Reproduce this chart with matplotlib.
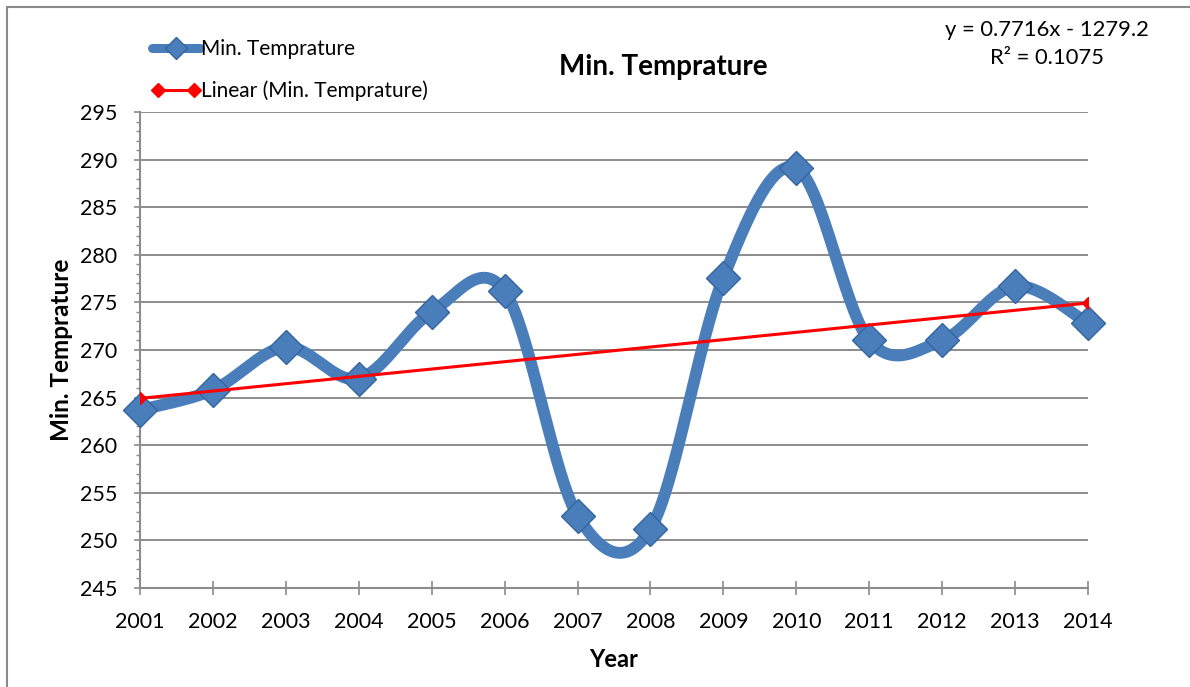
"""Min. Temprature by year, smoothed line with a linear trend (Excel-style chart)."""

import numpy as np
import matplotlib
matplotlib.use("Agg")  # headless
import matplotlib.pyplot as plt
from matplotlib.lines import Line2D
from matplotlib.legend_handler import HandlerLine2D
from matplotlib.patches import Rectangle

# --- Data ------------------------------------------------------------------
years = [2001, 2002, 2003, 2004, 2005, 2006, 2007,
         2008, 2009, 2010, 2011, 2012, 2013, 2014]
min_temp = [263.7, 265.8, 270.3, 267.0, 274.0, 276.2, 252.6,
            251.2, 277.6, 289.1, 271.0, 271.0, 276.7, 272.8]
y_ticks = list(range(245, 296, 5))

TITLE = "Min. Temprature"
SERIES_LABEL = "Min. Temprature"
TREND_LABEL = "Linear (Min. Temprature)"
EQUATION = "y = 0.7716x - 1279.2"
R_SQUARED = "R² = 0.1075"

BLUE = "#4a7ebb"
BLUE_EDGE = "#3464a0"
GRID = "#8c8c8c"
FONT = "Lato"


def smooth_curve(x, y, n=60):
    """Bezier segments with Catmull-Rom control points, like Excel's smoothed line."""
    x = np.asarray(x, float)
    y = np.asarray(y, float)
    px = np.concatenate([[x[0]], x, [x[-1]]])
    py = np.concatenate([[y[0]], y, [y[-1]]])
    t = np.linspace(0, 1, n)[:, None]
    out_x, out_y = [], []
    for i in range(len(x) - 1):
        j = i + 1  # index into padded arrays
        p0 = np.array([px[j], py[j]])
        p3 = np.array([px[j + 1], py[j + 1]])
        c1 = p0 + (np.array([px[j + 1], py[j + 1]]) - np.array([px[j - 1], py[j - 1]])) / 6
        c2 = p3 - (np.array([px[j + 2], py[j + 2]]) - p0) / 6
        seg = ((1 - t) ** 3) * p0 + 3 * ((1 - t) ** 2) * t * c1 \
            + 3 * (1 - t) * t ** 2 * c2 + t ** 3 * p3
        out_x.append(seg[:, 0])
        out_y.append(seg[:, 1])
    return np.concatenate(out_x), np.concatenate(out_y)


plt.rcParams["font.family"] = [FONT, "DejaVu Sans"]

W, H = 1190, 687
fig = plt.figure(figsize=(W / 100, H / 100), dpi=100)
ax = fig.add_axes([140 / W, 1 - 588 / H, (1088 - 140) / W, (588 - 112) / H])

# smoothed series + markers
sx, sy = smooth_curve(years, min_temp)
ax.plot(sx, sy, color=BLUE, lw=8.5, solid_capstyle="round", zorder=3, clip_on=False)
ax.plot(years, min_temp, ls="none", marker="D", ms=17, mfc=BLUE,
        mec=BLUE_EDGE, mew=1.0, zorder=4, clip_on=False)

# linear trend line
slope, intercept = np.polyfit(years, min_temp, 1)
trend = slope * np.asarray(years, float) + intercept
ax.plot(years, trend, color="red", lw=2.2, marker="D", ms=6,
        markevery=[0, len(years) - 1], zorder=5)

# axes styling
ax.set_xlim(years[0], years[-1])
ax.set_ylim(y_ticks[0], y_ticks[-1])
ax.set_xticks(years)
ax.set_xticklabels([str(y) for y in years])
ax.set_yticks(y_ticks)
ax.set_yticks(np.arange(y_ticks[0], y_ticks[-1] + 1, 1), minor=True)
ax.grid(axis="y", which="major", color=GRID, lw=1.4, zorder=0)
ax.set_axisbelow(True)
for side in ("top", "right"):
    ax.spines[side].set_visible(False)
for side in ("left", "bottom"):
    ax.spines[side].set_color(GRID)
    ax.spines[side].set_linewidth(1.5)
ax.tick_params(axis="x", direction="inout", length=10, width=1.2, color=GRID,
               labelsize=15.5, pad=12)
ax.tick_params(axis="y", which="major", direction="out", length=4.5, width=1.2,
               color=GRID, labelsize=15.5, pad=12)
ax.tick_params(axis="y", which="minor", direction="out", length=3, width=1.0,
               color=GRID)

ax.set_xlabel("Year", fontsize=17, fontweight="bold", labelpad=12)
ax.set_ylabel("Min. Temprature", fontsize=17.5, fontweight="bold", labelpad=5)

fig.text(663 / W, 1 - 67 / H, TITLE, fontsize=20, fontweight="bold",
         ha="center", va="center")
fig.text(1047 / W, 1 - 30 / H, EQUATION, fontsize=15.8, ha="center", va="center")
fig.text(1047 / W, 1 - 58 / H, R_SQUARED, fontsize=15.8, ha="center", va="center")

# legend (proxy handles)
h_series = Line2D([], [], color=BLUE, lw=6.5, marker="D", ms=11,
                  mfc=BLUE, mec=BLUE_EDGE, solid_capstyle="round")
h_trend = Line2D([], [], color="red", lw=2.2, marker="D", ms=7)
fig.legend([h_series, h_trend], [SERIES_LABEL, TREND_LABEL],
           loc="upper left", bbox_to_anchor=(152 / W, 1 - 39 / H),
           frameon=False, fontsize=15, handlelength=2.3, handletextpad=0.05,
           labelspacing=1.05, borderpad=0, borderaxespad=0,
           handler_map={h_series: HandlerLine2D(numpoints=1),
                        h_trend: HandlerLine2D(numpoints=2)})

# outer chart frame
fig.add_artist(Rectangle((7 / W, -0.05), 1.1, 1 - 7 / H + 0.05,
                         transform=fig.transFigure, fill=False,
                         edgecolor="#8a8a8a", lw=1.5))

fig.savefig("out.png", dpi=100)
